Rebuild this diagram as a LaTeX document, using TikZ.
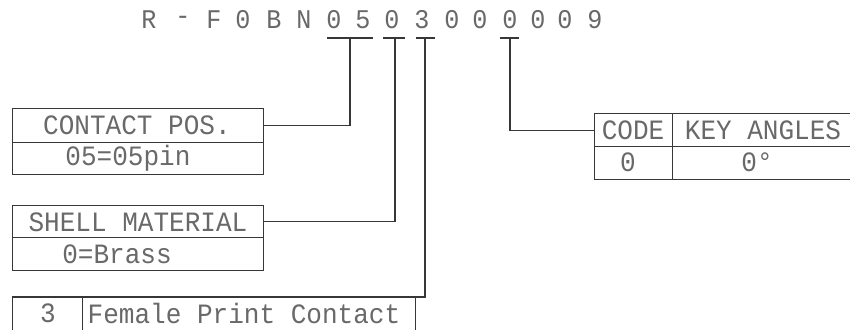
\documentclass[tikz,border=0pt]{standalone}
\usepackage{fontspec}
\newfontfamily\cadfont[FakeStretch=0.93]{Liberation Mono}
\definecolor{txtgray}{RGB}{105,105,105}
\definecolor{linegray}{RGB}{55,55,55}
\tikzset{
  cad/.style={font=\cadfont\fontsize{28}{28}\selectfont, text=txtgray, inner sep=0pt},
  codechar/.style={font=\cadfont\fontsize{27}{27}\selectfont, text=txtgray, inner sep=0pt},
  cell/.style={draw=linegray, line width=1.2pt, inner sep=0pt, anchor=north west},
  conn/.style={draw=linegray, line width=1.2pt},
}
\begin{document}
\begin{tikzpicture}[x=1pt,y=-1pt]
\useasboundingbox (0,0) rectangle (850,329);
\fill[white] (0,0) rectangle (850,329);
\clip (0,0) rectangle (850,329);
% code string
\foreach \ch/\xx [count=\i] in {R/149,-/183,F/214,0/243,B/274,N/304,0/334,5/363,0/392,3/422,0/452,0/480,0/510,0/538,0/565,9/595}
  \node[codechar] (c\i) at (\xx,20) {\ch};
% underlines
\coordinate (u1a) at (327,38); \coordinate (u1b) at (373,38); \coordinate (u1m) at (350,38);
\coordinate (u2a) at (383,38); \coordinate (u2b) at (405,38); \coordinate (u2m) at (395,38);
\coordinate (u3a) at (416,38); \coordinate (u3b) at (435,38); \coordinate (u3m) at (425,38);
\coordinate (u4a) at (500,38); \coordinate (u4b) at (519,38); \coordinate (u4m) at (510,38);
\draw[conn] (u1a) -- (u1b);
\draw[conn] (u2a) -- (u2b);
\draw[conn] (u3a) -- (u3b);
\draw[conn] (u4a) -- (u4b);
% CONTACT POS box
\node[cell, minimum width=251pt, minimum height=34pt] (cpt) at (12,108) {};
\node[cell, minimum width=251pt, minimum height=32pt] (cpb) at (12,142) {};
\node[cad] at (137,125) {CONTACT POS.};
\node[cad] at (128,158) {05=05pin};
% SHELL MATERIAL box
\node[cell, minimum width=251pt, minimum height=32pt] (smt) at (12,205) {};
\node[cell, minimum width=251pt, minimum height=33pt] (smb) at (12,237) {};
\node[cad] at (138,222) {SHELL MATERIAL};
\node[cad] at (117,254) {0=Brass};
% bottom table
\node[cell, minimum width=70pt, minimum height=40pt] (bt1) at (12,297) {};
\node[cell, minimum width=333pt, minimum height=40pt] (bt2) at (82,297) {};
\node[cad] at (48,313) {3};
\node[cad] at (244,313) {Female Print Contact};
% right table
\node[cell, minimum width=78pt, minimum height=33pt] (rt1) at (594,113) {};
\node[cell, minimum width=200pt, minimum height=33pt] (rt2) at (672,113) {};
\node[cell, minimum width=78pt, minimum height=33pt] (rt3) at (594,146) {};
\node[cell, minimum width=200pt, minimum height=33pt] (rt4) at (672,146) {};
\node[cad] at (633,130) {CODE};
\node[cad] at (763,130) {KEY ANGLES};
\node[cad] at (628,162) {0};
\node[cad] at (757,162) {0°};
% connectors
\draw[conn] (u1m) |- (cpt.east);
\draw[conn] (u2m) |- (smt.east);
\draw[conn] (u3m) |- (bt2.north east) -- (bt1.north west);
\draw[conn] (u4m) |- (rt1.west);
\end{tikzpicture}
\end{document}
